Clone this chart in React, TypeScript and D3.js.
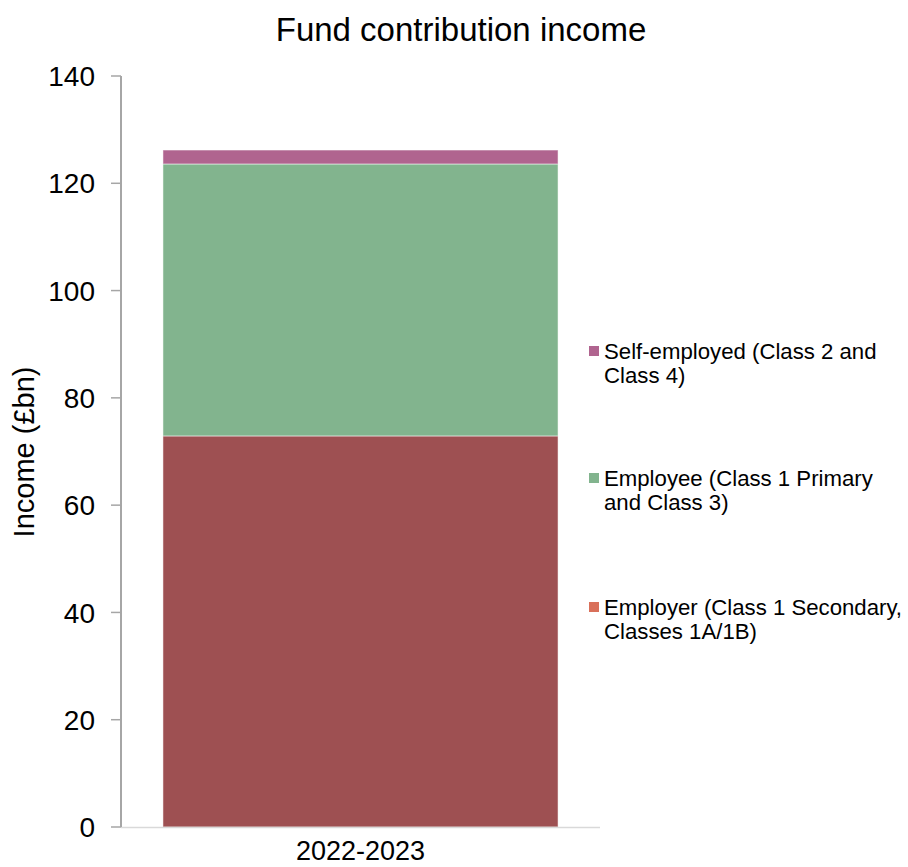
import React from "react";
import * as d3 from "d3";

const categories = ["2022-2023"];
const employer = [72.9];
const employee = [50.7];
const selfEmployed = [2.6];
const yTicks = [0, 20, 40, 60, 80, 100, 120, 140];

const seriesNames = ["employer", "employee", "selfEmployed"];
const seriesColors: Record<string, string> = {
  employer: "#9E5052",
  employee: "#82B48E",
  selfEmployed: "#B0648F",
};
const legendItems = [
  { key: "selfEmployed", lines: ["Self-employed (Class 2 and", "Class 4)"], color: "#B0648F" },
  { key: "employee", lines: ["Employee (Class 1 Primary", "and Class 3)"], color: "#82B48E" },
  { key: "employer", lines: ["Employer (Class 1 Secondary,", "Classes 1A/1B)"], color: "#D9705A" },
];

const W = 908;
const H = 867;
const left = 121;
const right = 600;
const top = 76;
const bottom = 827;
const font = "Liberation Sans, Arial, sans-serif";

export default function App() {
  const rows = categories.map((c, i) => ({
    category: c,
    employer: employer[i],
    employee: employee[i],
    selfEmployed: selfEmployed[i],
  }));
  const stacked = d3.stack<any>().keys(seriesNames)(rows);
  const x = d3.scaleBand().domain(categories).range([left, right]).paddingInner(0.096).paddingOuter(0.096);
  const y = d3.scaleLinear().domain([0, 140]).range([bottom, top]);
  const legendY = [351, 478, 607];

  return (
    <svg width={W} height={H} style={{ position: "absolute", left: 0, top: 0 }}>
      <rect width={W} height={H} fill="#fff" />
      <text x={461} y={41} textAnchor="middle" fontFamily={font} fontSize={33} fill="#000">
        Fund contribution income
      </text>
      {stacked.map((s) =>
        s.map((d, i) => (
          <rect
            key={s.key + i}
            x={x(rows[i].category)}
            y={y(d[1])}
            width={x.bandwidth()}
            height={y(d[0]) - y(d[1])}
            fill={seriesColors[s.key]}
            stroke="#ffffff"
            strokeOpacity={0.5}
            strokeWidth={1}
          />
        ))
      )}
      <line x1={left} x2={right} y1={bottom + 0.5} y2={bottom + 0.5} stroke="#d9d9d9" strokeWidth={1.5} />
      <line x1={left} x2={left} y1={top} y2={bottom} stroke="#a6a6a6" strokeWidth={2} />
      {yTicks.map((t) => (
        <g key={t}>
          <line x1={left - 10} x2={left} y1={y(t)} y2={y(t)} stroke="#a6a6a6" strokeWidth={1.5} />
          <text x={95} y={y(t)} dy="0.36em" textAnchor="end" fontFamily={font} fontSize={28} fill="#000">
            {t}
          </text>
        </g>
      ))}
      {categories.map((c) => (
        <text key={c} x={(x(c) as number) + x.bandwidth() / 2} y={860} textAnchor="middle" fontFamily={font} fontSize={27} fill="#000">
          {c}
        </text>
      ))}
      <text
        transform={`translate(34,${452}) rotate(-90)`}
        textAnchor="middle"
        fontFamily={font}
        fontSize={29}
        fill="#000"
      >
        Income (£bn)
      </text>
      {legendItems.map((item, i) => (
        <g key={item.key}>
          <rect x={589} y={legendY[i] - 5} width={10} height={10} fill={item.color} />
          {item.lines.map((ln, j) => (
            <text key={j} x={604} y={legendY[i] + j * 24} dy="0.36em" fontFamily={font} fontSize={22.2} fill="#000">
              {ln}
            </text>
          ))}
        </g>
      ))}
    </svg>
  );
}
